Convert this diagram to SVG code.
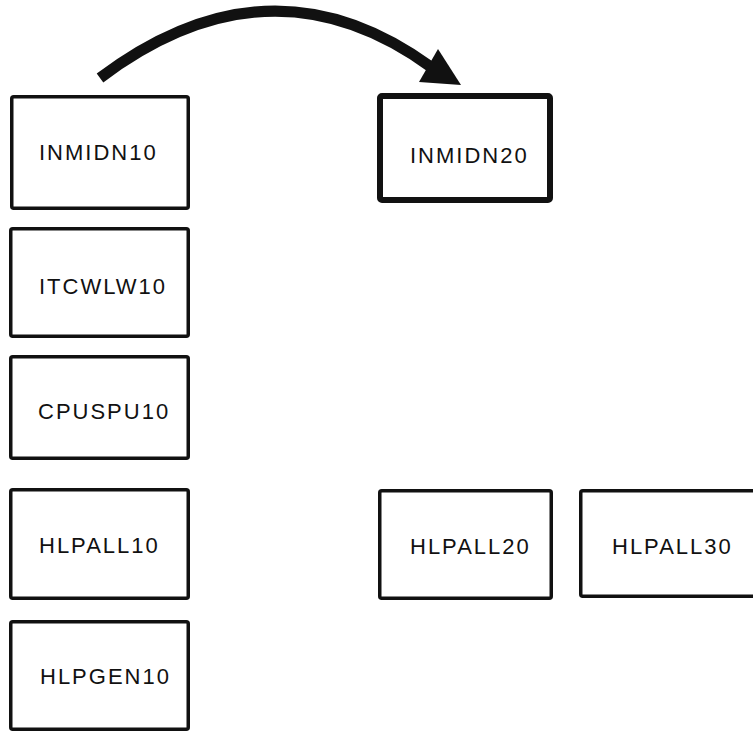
<svg xmlns="http://www.w3.org/2000/svg" width="753" height="731" viewBox="0 0 753 731">
<style>
.box{fill:#fff;stroke:#111;stroke-width:3.5}
.bold{stroke-width:6}
.lbl{font-family:"Liberation Sans",Arial,sans-serif;font-size:22px;letter-spacing:2px;fill:#111}
</style>
<rect width="753" height="731" fill="#fff"/>
<g id="connectors">
<path d="M100,78 Q270,-50 431,67" fill="none" stroke="#111" stroke-width="11"/>
<polygon points="419,82 438,49 461,85" fill="#111"/>
</g>
<g id="INMIDN10"><rect class="box" x="11.75" y="96.75" width="176.5" height="111.5" rx="2"/><text class="lbl" x="39" y="160">INMIDN10</text></g>
<g id="ITCWLW10"><rect class="box" x="10.75" y="228.75" width="177.5" height="107.5" rx="2"/><text class="lbl" x="39" y="294">ITCWLW10</text></g>
<g id="CPUSPU10"><rect class="box" x="10.75" y="356.75" width="177.5" height="101.5" rx="2"/><text class="lbl" x="38" y="419">CPUSPU10</text></g>
<g id="HLPALL10"><rect class="box" x="10.75" y="489.75" width="177.5" height="108.5" rx="2"/><text class="lbl" x="39" y="553">HLPALL10</text></g>
<g id="HLPGEN10"><rect class="box" x="10.75" y="621.75" width="177.5" height="107.5" rx="2"/><text class="lbl" x="40" y="684">HLPGEN10</text></g>
<g id="INMIDN20"><rect class="box bold" x="380" y="96" width="170" height="104" rx="2"/><text class="lbl" x="410" y="163">INMIDN20</text></g>
<g id="HLPALL20"><rect class="box" x="379.75" y="490.75" width="171.5" height="107.5" rx="2"/><text class="lbl" x="410" y="554">HLPALL20</text></g>
<g id="HLPALL30"><rect class="box" x="580.75" y="490.75" width="185" height="105.5" rx="2"/><text class="lbl" x="612" y="554">HLPALL30</text></g>
</svg>
